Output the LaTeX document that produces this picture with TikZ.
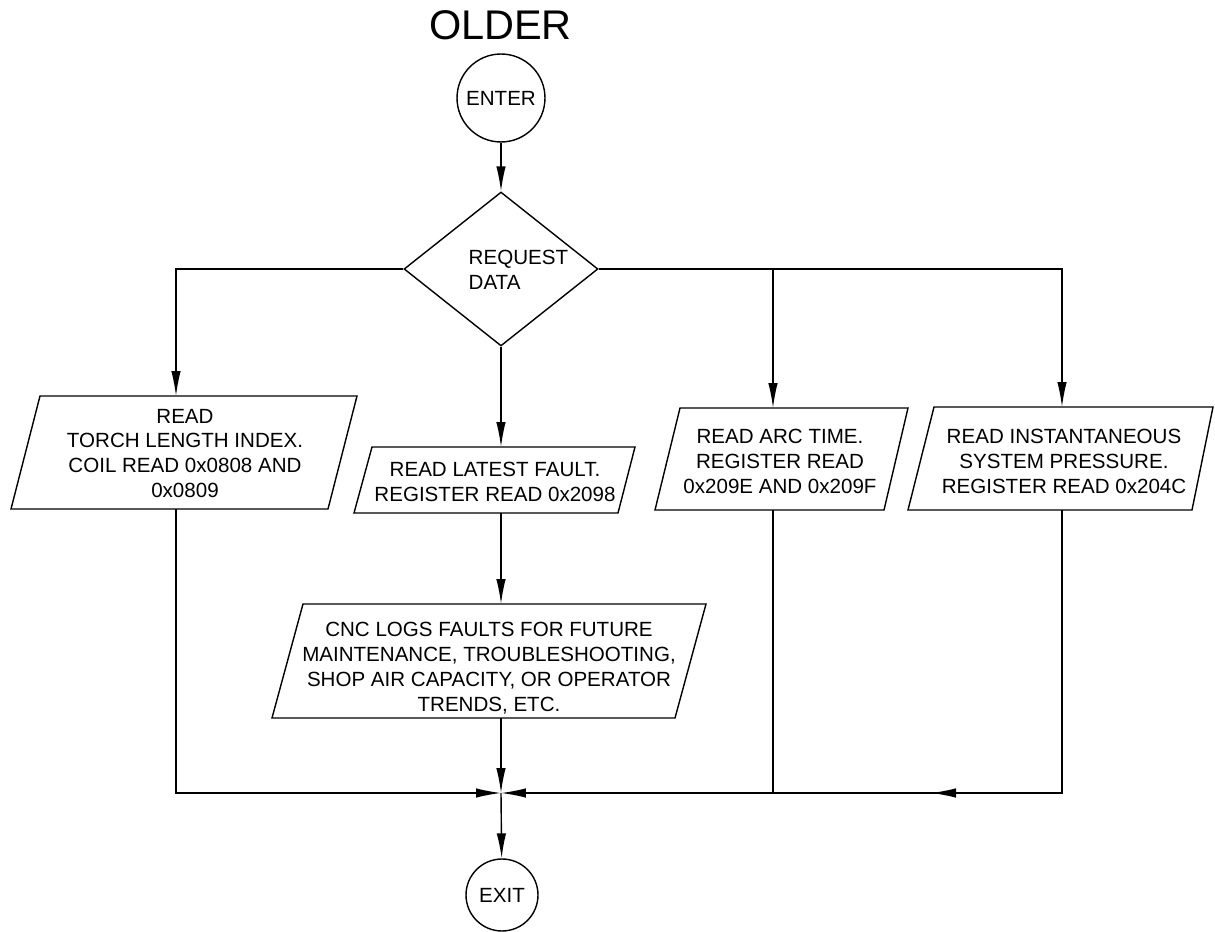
\documentclass[tikz,border=0pt]{standalone}
\usepackage{fontspec}
\setmainfont{Liberation Sans}
\usepackage{tikz}
\usetikzlibrary{arrows.meta}
\usetikzlibrary{shapes.geometric}

\begin{document}
\begin{tikzpicture}[x=0.02cm,y=-0.02cm,line width=0.8pt,
    txt/.style={align=center,inner sep=0pt,font=\fontsize{11.7pt}{14.2pt}\selectfont},
    flow/.style={-{Latex[length=0.5cm,width=0.19cm]}}]
    \useasboundingbox (0,0) rectangle (1215,932);
    \node[inner sep=0pt,font=\fontsize{23.6pt}{28pt}\selectfont] (title) at (500.5,25) {OLDER};
    \node[txt,draw,circle,minimum size=1.76cm] (enter) at (501,98) {ENTER};
    \node[draw,diamond,minimum width=3.88cm,minimum height=3.08cm,inner sep=0pt] (req) at (501,269) {};
    \node[txt,align=left,anchor=west] (reqtxt) at (468,270) {REQUEST\\DATA};
    \draw (40,396) -- (357,396) -- (328,509) -- (11,509) -- cycle;
    \node[txt] (torch) at (185,453.5) {READ\\TORCH LENGTH INDEX.\\COIL READ 0x0808 AND\\0x0809};
    \coordinate (torchin) at (176,396);
    \coordinate (torchout) at (176,509);
    \draw (372,447) -- (635,447) -- (618,513) -- (354,513) -- cycle;
    \node[txt] (fault) at (495,482) {READ LATEST FAULT.\\REGISTER READ 0x2098};
    \coordinate (faultin) at (501,447);
    \coordinate (faultout) at (501,513);
    \draw (303,604) -- (706,604) -- (675,718) -- (272,718) -- cycle;
    \node[txt] (logs) at (489,668.5) {CNC LOGS FAULTS FOR FUTURE\\MAINTENANCE, TROUBLESHOOTING,\\SHOP AIR CAPACITY, OR OPERATOR\\TRENDS, ETC.};
    \coordinate (logsin) at (501,604);
    \coordinate (logsout) at (501,718);
    \draw (680,408) -- (908,408) -- (884,510) -- (655,510) -- cycle;
    \node[txt] (arc) at (780,461.5) {READ ARC TIME.\\REGISTER READ\\0x209E AND 0x209F};
    \coordinate (arcin) at (773,408);
    \coordinate (arcout) at (773,510);
    \coordinate (arcjoin) at (773,793);
    \draw (934,407) -- (1213,407) -- (1192,510) -- (908,510) -- cycle;
    \node[txt] (press) at (1064,461.5) {READ INSTANTANEOUS\\SYSTEM PRESSURE.\\REGISTER READ 0x204C};
    \coordinate (pressin) at (1062,407);
    \coordinate (pressout) at (1062,510);
    \coordinate (join) at (501,793);
    \coordinate (mid) at (931,793);
    \node[txt,draw,circle,minimum size=1.44cm] (exit) at (502,895) {EXIT};
    \draw[flow] (enter) -- (req);
    \draw[flow] (req.west) -| (torchin);
    \draw[flow] (req.south) -- (faultin);
    \draw[flow] (req.east) -| (arcin);
    \draw[flow] (req.east) -| (pressin);
    \draw[flow] (faultout) -- (logsin);
    \draw[flow] (logsout) -- (join);
    \draw[flow] (torchout) |- (join);
    \draw (arcout) -- (arcjoin);
    \draw[flow] (pressout) |- (join);
    \draw[flow] (pressout) |- (mid);
    \draw[flow] (join) -- (exit);
\end{tikzpicture}
\end{document}
